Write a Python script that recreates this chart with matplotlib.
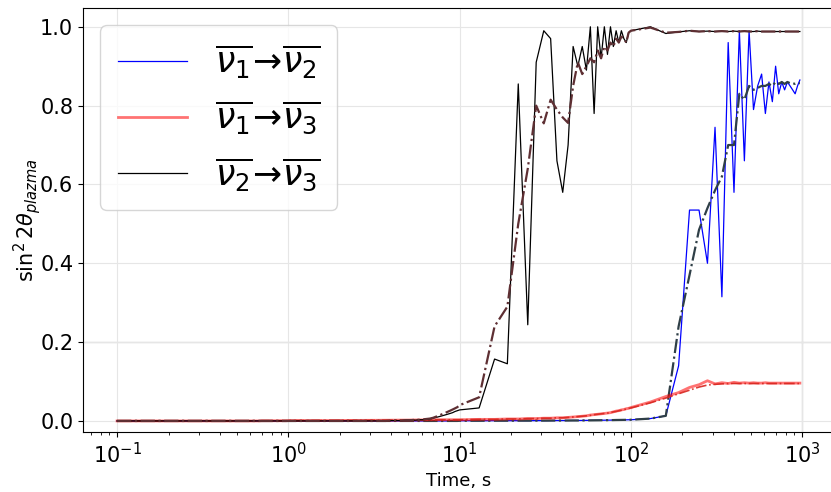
import matplotlib.pyplot as plt

# time grid: 30 samples per decade, 1.0, 1.3, ... 9.7 times the decade start
decade_steps = [1.0, 1.3, 1.6, 1.9, 2.2, 2.5, 2.8, 3.1, 3.4, 3.7,
                4.0, 4.3, 4.6, 4.9, 5.2, 5.5, 5.8, 6.1, 6.4, 6.7,
                7.0, 7.3, 7.6, 7.9, 8.2, 8.5, 8.8, 9.1, 9.4, 9.7]
decade_starts = [0.1, 1.0, 10.0, 100.0]
time_s = [round(d * s, 4) for d in decade_starts for s in decade_steps]

zeros30 = [0.0] * 30

# nu1 -> nu2
nu12 = (zeros30 + zeros30 +
        [0.0005, 0.0005, 0.0006, 0.0006, 0.0007, 0.0007, 0.0008, 0.0008, 0.0009, 0.001,
         0.001, 0.0011, 0.0012, 0.0012, 0.0013, 0.0014, 0.0015, 0.0016, 0.0017, 0.0018,
         0.0019, 0.002, 0.0021, 0.0022, 0.0024, 0.0025, 0.0026, 0.0027, 0.0028, 0.003] +
        [0.003, 0.006, 0.013, 0.14, 0.535, 0.535, 0.40, 0.745, 0.315, 0.96,
         0.58, 0.99, 0.66, 0.99, 0.79, 0.85, 0.88, 0.78, 0.86, 0.81,
         0.90, 0.83, 0.86, 0.84, 0.86, 0.85, 0.84, 0.83, 0.85, 0.865])
nu12_mean = (zeros30 + zeros30 +
             [0.0005, 0.0005, 0.0006, 0.0006, 0.0007, 0.0007, 0.0008, 0.0008, 0.0009, 0.001,
              0.001, 0.0011, 0.0012, 0.0012, 0.0013, 0.0014, 0.0015, 0.0016, 0.0017, 0.0018,
              0.0019, 0.002, 0.0021, 0.0022, 0.0024, 0.0025, 0.0026, 0.0027, 0.0028, 0.003] +
             [0.003, 0.006, 0.013, 0.24, 0.37, 0.485, 0.54, 0.585, 0.62, 0.70,
              0.70, 0.83, 0.815, 0.85, 0.84, 0.845, 0.85, 0.85, 0.855, 0.85,
              0.86, 0.855, 0.86, 0.855, 0.86, 0.857, 0.857, 0.855, 0.857, 0.857])

# nu1 -> nu3
nu13 = ([0.0] * 20 + [0.0005] * 10 +
        [0.001, 0.001, 0.001, 0.0012, 0.0013, 0.0014, 0.0015, 0.0016, 0.0017, 0.0018,
         0.0019, 0.002, 0.0021, 0.0022, 0.0023, 0.0024, 0.0025, 0.0026, 0.0027, 0.0028,
         0.0029, 0.003, 0.003, 0.003, 0.003, 0.003, 0.003, 0.003, 0.003, 0.003] +
        [0.003, 0.004, 0.004, 0.005, 0.005, 0.006, 0.006, 0.007, 0.007, 0.008,
         0.008, 0.009, 0.010, 0.011, 0.012, 0.013, 0.015, 0.016, 0.017, 0.018,
         0.019, 0.020, 0.021, 0.023, 0.025, 0.026, 0.028, 0.029, 0.031, 0.032] +
        [0.034, 0.048, 0.062, 0.072, 0.085, 0.092, 0.102, 0.094, 0.097, 0.095,
         0.098, 0.096, 0.097, 0.096, 0.097, 0.096, 0.096, 0.097, 0.096, 0.096,
         0.096, 0.096, 0.096, 0.096, 0.096, 0.096, 0.096, 0.096, 0.096, 0.096])
nu13_mean = ([0.0] * 20 + [0.0005] * 10 +
             [0.001, 0.001, 0.001, 0.0012, 0.0013, 0.0014, 0.0015, 0.0016, 0.0017, 0.0018,
              0.0019, 0.002, 0.0021, 0.0022, 0.0023, 0.0024, 0.0025, 0.0026, 0.0027, 0.0028,
              0.0029, 0.003, 0.003, 0.003, 0.003, 0.003, 0.003, 0.003, 0.003, 0.003] +
             [0.003, 0.004, 0.004, 0.005, 0.005, 0.006, 0.006, 0.007, 0.007, 0.008,
              0.008, 0.009, 0.010, 0.011, 0.012, 0.013, 0.014, 0.016, 0.017, 0.018,
              0.019, 0.020, 0.021, 0.023, 0.024, 0.026, 0.027, 0.029, 0.030, 0.032] +
             [0.033, 0.046, 0.058, 0.069, 0.078, 0.086, 0.091, 0.093, 0.094, 0.095,
              0.095, 0.095, 0.095, 0.095, 0.095, 0.095, 0.095, 0.095, 0.095, 0.095,
              0.095, 0.095, 0.095, 0.095, 0.095, 0.095, 0.095, 0.095, 0.095, 0.095])

# nu2 -> nu3
nu23 = (zeros30 +
        [0.0, 0.0, 0.0, 0.0, 0.0, 0.0, 0.0, 0.0, 0.0, 0.0,
         0.001, 0.001, 0.001, 0.002, 0.002, 0.002, 0.003, 0.003, 0.004, 0.005,
         0.007, 0.009, 0.011, 0.013, 0.015, 0.017, 0.019, 0.021, 0.024, 0.026] +
        [0.028, 0.033, 0.157, 0.145, 0.855, 0.244, 0.91, 0.99, 0.97, 0.66,
         0.58, 0.70, 0.95, 0.90, 0.95, 0.89, 1.0, 0.78, 1.0, 0.92,
         1.0, 0.93, 1.0, 0.95, 0.99, 0.96, 0.99, 0.97, 0.96, 0.985] +
        [0.99, 1.0, 0.983, 0.987, 0.99, 0.988, 0.989, 0.988, 0.989, 0.988,
         0.989, 0.988, 0.989, 0.988, 0.988, 0.989, 0.988, 0.988, 0.988, 0.988,
         0.988, 0.988, 0.988, 0.988, 0.988, 0.988, 0.988, 0.988, 0.988, 0.988])
nu23_mean = (zeros30 +
             [0.0, 0.0, 0.0, 0.0, 0.0, 0.0, 0.0, 0.0, 0.0, 0.0,
              0.001, 0.001, 0.001, 0.002, 0.002, 0.003, 0.003, 0.004, 0.005, 0.006,
              0.008, 0.011, 0.014, 0.017, 0.02, 0.023, 0.026, 0.029, 0.032, 0.035] +
             [0.04, 0.06, 0.24, 0.29, 0.50, 0.64, 0.80, 0.755, 0.815, 0.79,
              0.77, 0.756, 0.85, 0.91, 0.88, 0.90, 0.92, 0.91, 0.94, 0.92,
              0.95, 0.94, 0.96, 0.95, 0.97, 0.96, 0.975, 0.97, 0.96, 0.985] +
             [0.99, 0.998, 0.985, 0.987, 0.99, 0.988, 0.989, 0.988, 0.989, 0.988,
              0.989, 0.988, 0.989, 0.988, 0.988, 0.989, 0.988, 0.988, 0.988, 0.988,
              0.988, 0.988, 0.988, 0.988, 0.988, 0.988, 0.988, 0.988, 0.988, 0.988])

labels = [r'$\overline{\nu_1}\!\rightarrow\!\overline{\nu_2}$',
          r'$\overline{\nu_1}\!\rightarrow\!\overline{\nu_3}$',
          r'$\overline{\nu_2}\!\rightarrow\!\overline{\nu_3}$']

fig = plt.figure(figsize=(8.31, 4.92), dpi=100)
# the original screenshot is cropped on the right, so the axes run past the edge
ax = fig.add_axes([0.0999, 0.122, 0.9037, 0.862])

ax.plot(time_s, nu12, color='blue', lw=0.9, label=labels[0])
ax.plot(time_s, nu12_mean, color='#2f3f47', lw=1.6, ls='-.')
ax.plot(time_s, nu13, color='red', lw=2, alpha=0.55, label=labels[1])
ax.plot(time_s, nu13_mean, color='#d8261f', lw=1.2, ls='-.', alpha=0.9)
ax.plot(time_s, nu23, color='black', lw=0.9, label=labels[2])
ax.plot(time_s, nu23_mean, color='#5e2f33', lw=1.6, ls='-.')

ax.set_xscale('log')
ax.set_xlim(10 ** -1.199, 10 ** 3.186)
ax.set_ylim(-0.028, 1.048)
ax.grid(True, color='#e6e6e6', lw=0.8)
# two grid lines look darker in the original
ax.axhline(0.2, color='#bdbdbd', lw=0.9, zorder=0.5)
ax.axvline(1000, color='#bdbdbd', lw=0.9, zorder=0.5)
ax.set_xlabel('Time, s', fontsize=13)
ax.set_ylabel(r'$\sin^2 2\theta_{plazma}$', fontsize=15, labelpad=-2)
ax.tick_params(labelsize=15)
ax.legend(loc='upper left', fontsize=25, handlelength=2.0,
          labelspacing=0.55, borderpad=0.5)

fig.savefig('out.png')
